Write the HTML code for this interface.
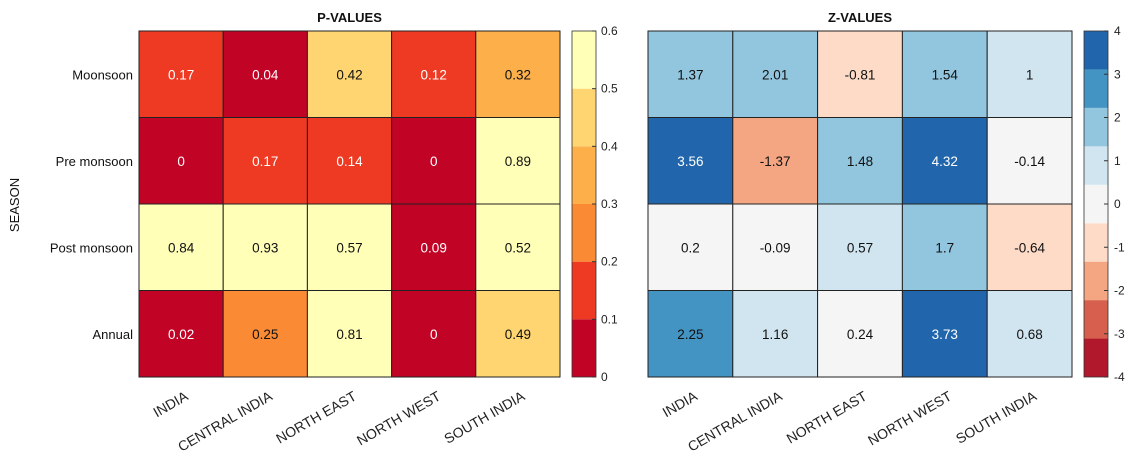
<!DOCTYPE html>
<html><head><meta charset="utf-8"><style>body{margin:0;background:#fff}svg{display:block}text{font-family:"Liberation Sans",Arial,sans-serif}</style></head>
<body>
<svg width="1131" height="464" viewBox="0 0 1131 464" xmlns="http://www.w3.org/2000/svg">
<script>
(function(){
var NS="http://www.w3.org/2000/svg";
var SV=document.querySelector('svg');
function el(t,a,txt){var e=document.createElementNS(NS,t);for(var k in a)e.setAttribute(k,a[k]);if(txt!==undefined)e.textContent=txt;SV.appendChild(e);return e;}
var cols=["INDIA","CENTRAL INDIA","NORTH EAST","NORTH WEST","SOUTH INDIA"];
var rows=["Moonsoon","Pre monsoon","Post monsoon","Annual"];
var P=[[0.17,0.04,0.42,0.12,0.32],[0,0.17,0.14,0,0.89],[0.84,0.93,0.57,0.09,0.52],[0.02,0.25,0.81,0,0.49]];
var Z=[[1.37,2.01,-0.81,1.54,1],[3.56,-1.37,1.48,4.32,-0.14],[0.2,-0.09,0.57,1.7,-0.64],[2.25,1.16,0.24,3.73,0.68]];
var pc=["#c10325","#ee3a22","#fb8a35","#fdb04a","#fed571","#ffffb7"];
var zc=["#b2182b","#d6604d","#f4a582","#fddbc7","#f5f5f5","#d1e5f0","#92c5de","#4393c3","#2166ac"];
var T0=31,B0=377,ch=(B0-T0)/4;
function heat(x0,x1,data,colf,txtw,title){
 var cw=(x1-x0)/5;
 for(var r=0;r<4;r++)for(var c=0;c<5;c++){
  var v=data[r][c];
  el('rect',{x:x0+c*cw,y:T0+r*ch,width:cw,height:ch,fill:colf(v),stroke:"#222","stroke-width":1});
  el('text',{x:x0+c*cw+cw/2,y:T0+r*ch+ch/2+5,"text-anchor":"middle","font-size":13.5,fill:txtw(v)?"#fff":"#111"},String(v));
 }
 for(var c=0;c<5;c++){var cx=x0+c*cw+cw/2+8,cy=399;
  el('text',{x:cx,y:cy,"text-anchor":"end","font-size":14,fill:"#222",transform:"rotate(-30 "+cx+" "+cy+")"},cols[c]);}
 el('text',{x:(x0+x1)/2,y:22,"text-anchor":"middle","font-size":13,"font-weight":"bold",fill:"#111"},title);
}
heat(139,560,P,function(v){return pc[Math.min(5,Math.floor(v*10+1e-9))];},function(v){return v<0.2;},"P-VALUES");
heat(648,1072,Z,function(v){var i=Math.floor((v+4)/(8/9));return zc[Math.max(0,Math.min(8,i))];},function(v){return v>3.11;},"Z-VALUES");
for(var r=0;r<4;r++)el('text',{x:133,y:T0+r*ch+ch/2+5,"text-anchor":"end","font-size":13,fill:"#111"},rows[r]);
el('text',{x:19,y:205,"text-anchor":"middle","font-size":13,fill:"#111",transform:"rotate(-90 19 205)"},"SEASON");
var cbx=572,cbw=24,bh=(B0-T0)/6;
for(var i=0;i<6;i++)el('rect',{x:cbx,y:B0-(i+1)*bh,width:cbw,height:bh,fill:pc[i]});
el('rect',{x:cbx,y:T0,width:cbw,height:B0-T0,fill:"none",stroke:"#333","stroke-width":0.8});
for(var i=0;i<=6;i++){var y=B0-i*bh;el('line',{x1:cbx+cbw-4,x2:cbx+cbw,y1:y,y2:y,stroke:"#333"});
 el('text',{x:cbx+cbw+5,y:y+4,"font-size":12,fill:"#222"},i==0?"0":(i/10).toFixed(1));}
var zx=1084,zw=24,zb=(B0-T0)/9;
for(var i=0;i<9;i++)el('rect',{x:zx,y:B0-(i+1)*zb,width:zw,height:zb,fill:zc[i]});
el('rect',{x:zx,y:T0,width:zw,height:B0-T0,fill:"none",stroke:"#333","stroke-width":0.8});
for(var t=-4;t<=4;t++){var y=B0-(t+4)*(B0-T0)/8;el('line',{x1:zx+zw-4,x2:zx+zw,y1:y,y2:y,stroke:"#333"});
 el('text',{x:zx+zw+6,y:y+4,"font-size":12,fill:"#222"},String(t));}
})();
</script>
</svg>
</body></html>
